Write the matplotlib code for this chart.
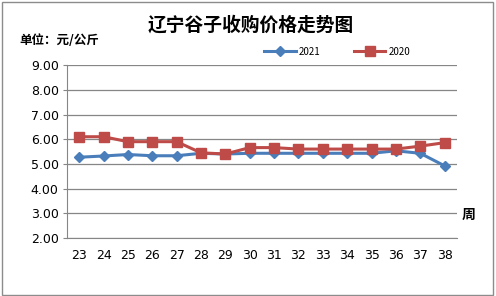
import matplotlib.pyplot as plt
from matplotlib.patches import Rectangle

plt.rcParams['font.family'] = ['Noto Sans CJK SC', 'DejaVu Sans']

# weeks and prices (yuan/kg)
weeks = [23, 24, 25, 26, 27, 28, 29, 30, 31, 32, 33, 34, 35, 36, 37, 38]
price_2021 = [5.27, 5.32, 5.38, 5.33, 5.33, 5.43, 5.40, 5.43, 5.43, 5.43, 5.43, 5.43, 5.43, 5.53, 5.43, 4.92]
price_2020 = [6.10, 6.10, 5.90, 5.90, 5.90, 5.45, 5.40, 5.66, 5.66, 5.60, 5.60, 5.60, 5.60, 5.60, 5.72, 5.86]
y_ticks = [2, 3, 4, 5, 6, 7, 8, 9]

blue = '#4a7ebb'
red = '#be4b48'
grid_col = '#868686'

fig = plt.figure(figsize=(4.96, 2.96), dpi=100)
fig.patches.append(Rectangle((0.005, 0.005), 0.988, 0.988, transform=fig.transFigure,
                             fill=False, edgecolor='#8c8c8c', linewidth=1.0))

ax = fig.add_axes([0.135, 0.196, 0.786, 0.584])
x = list(range(len(weeks)))
ax.plot(x, price_2021, color=blue, linewidth=2.2, marker='D', markersize=5.5,
        label='2021', zorder=3)
ax.plot(x, price_2020, color=red, linewidth=2.2, marker='s', markersize=7,
        label='2020', zorder=3)

ax.set_xlim(-0.5, len(weeks) - 0.5)
ax.set_ylim(2, 9)
ax.set_yticks(y_ticks)
ax.set_yticklabels(['%.2f' % v for v in y_ticks], fontsize=9, family='DejaVu Sans')
ax.set_xticks(x)
ax.set_xticklabels([str(w) for w in weeks], fontsize=9, family='DejaVu Sans')
ax.tick_params(axis='x', length=0, pad=8)
ax.tick_params(axis='y', length=3, color=grid_col, pad=3)
ax.grid(axis='y', color=grid_col, linewidth=0.9)
for s in ['top', 'right']:
    ax.spines[s].set_visible(False)
ax.spines['left'].set_color(grid_col)
ax.spines['bottom'].set_color(grid_col)

fig.text(0.505, 0.915, '辽宁谷子收购价格走势图', ha='center', va='center',
         fontsize=13.5, fontweight='bold')
fig.text(0.04, 0.862, '单位：元/公斤', ha='left', va='center', fontsize=9, fontweight='bold')
fig.text(0.945, 0.275, '周', ha='center', va='center', fontsize=10, fontweight='bold')

fig.legend(loc='center', bbox_to_anchor=(0.68, 0.825), ncol=2, frameon=False,
           fontsize=7, handlelength=3.2, columnspacing=3.5, handletextpad=0.3)

fig.savefig('out.png', dpi=100)
